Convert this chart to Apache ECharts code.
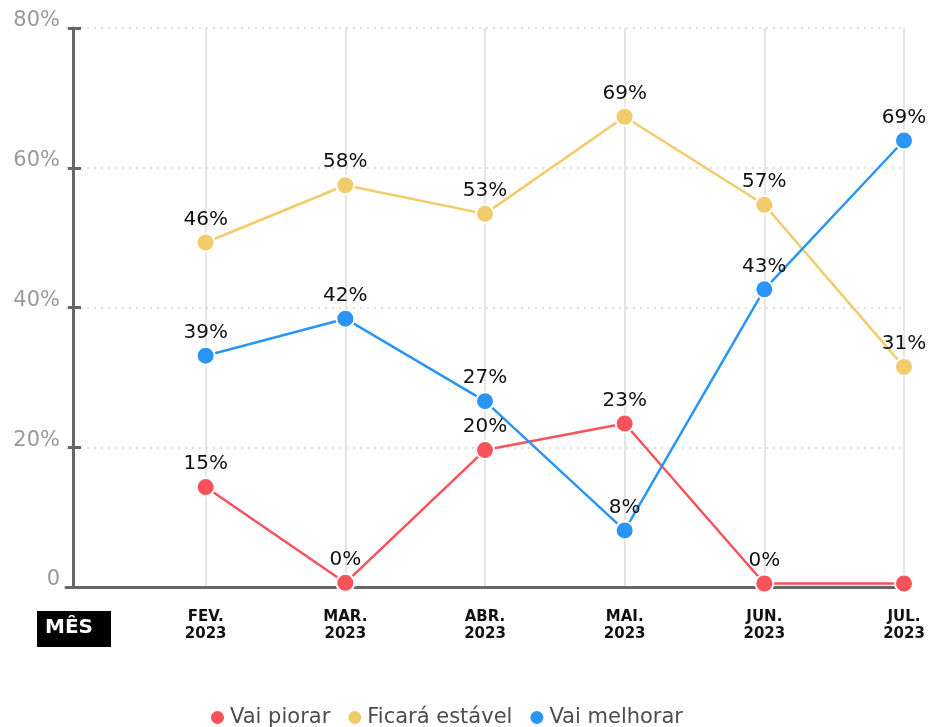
<!DOCTYPE html>
<html>
<head>
<meta charset="utf-8">
<script src="https://cdn.jsdelivr.net/npm/echarts@6/dist/echarts.min.js"></script>
<style>
  html, body { margin: 0; padding: 0; background: #fff; }
  #chart { width: 933px; height: 727px; }
</style>
</head>
<body>
<div id="chart"></div>
<script>
const months = ['FEV.\n2023', 'MAR.\n2023', 'ABR.\n2023', 'MAI.\n2023', 'JUN.\n2023', 'JUL.\n2023']
const yTicks = [0, 20, 40, 60, 80]

// plotted positions and the printed labels
const piorarValues = [14.3, 0.6, 19.6, 23.4, 0.5, 0.5]
const piorarLabels = ['15%', '0%', '20%', '23%', '0%', '']
const estavelValues = [49.3, 57.5, 53.4, 67.3, 54.7, 31.5]
const estavelLabels = ['46%', '58%', '53%', '69%', '57%', '31%']
const melhorarValues = [33.1, 38.4, 26.6, 8.1, 42.6, 63.9]
const melhorarLabels = ['39%', '42%', '27%', '8%', '43%', '69%']

const FONT = 'DejaVu Sans'
const axisGray = '#666666'

const chart = echarts.init(document.getElementById('chart'))

function lineSeries(name, color, values, labels) {
  return {
    name,
    type: 'line',
    yAxisIndex: 0,
    data: [null, ...values],
    symbol: 'circle',
    symbolSize: 18,
    lineStyle: { color, width: 2.5 },
    itemStyle: { color, borderColor: '#FFFFFF', borderWidth: 2 },
    label: {
      show: true,
      position: 'top',
      distance: 3,
      color: '#111111',
      fontSize: 20,
      fontFamily: FONT,
      formatter: (p) => labels[p.dataIndex - 1] || ''
    },
    emphasis: { disabled: true }
  }
}

const yCommon = {
  type: 'value',
  position: 'left',
  min: yTicks[0],
  max: yTicks[yTicks.length - 1],
  interval: 20,
  offset: -7
}

chart.setOption({
  animation: false,
  textStyle: { fontFamily: FONT },
  grid: { left: 66, right: 29, top: 28, bottom: 140, containLabel: false },
  xAxis: {
    type: 'category',
    boundaryGap: false,
    data: ['', ...months],
    axisLine: { lineStyle: { color: axisGray, width: 3 } },
    axisTick: { show: false },
    axisLabel: {
      color: '#111111',
      fontSize: 15,
      fontWeight: 'bold',
      fontFamily: FONT,
      lineHeight: 17,
      margin: 22,
      interval: 0
    },
    splitLine: {
      show: true,
      interval: (index) => index > 0,
      lineStyle: { color: '#DDDDDD', width: 1.5 }
    }
  },
  yAxis: [
    {
      ...yCommon,
      axisLine: { show: true, lineStyle: { color: axisGray, width: 3 } },
      axisTick: { show: true, inside: false, length: 5, lineStyle: { color: axisGray, width: 3 } },
      axisLabel: {
        color: '#9A9A9A',
        fontSize: 21,
        fontFamily: FONT,
        margin: 13,
        verticalAlign: 'bottom',
        lineHeight: 14,
        formatter: (v) => (v === 0 ? '0' : v + '%')
      },
      splitLine: { show: true, lineStyle: { color: '#E0E0E0', width: 2, type: [2, 5] } }
    },
    {
      ...yCommon,
      axisLine: { show: false },
      axisTick: { show: true, inside: true, length: 8, lineStyle: { color: axisGray, width: 3 } },
      axisLabel: { show: false },
      splitLine: { show: false }
    }
  ],
  legend: {
    left: 204,
    top: 702,
    icon: 'circle',
    itemWidth: 15,
    itemHeight: 15,
    itemGap: 16,
    textStyle: { color: '#4D4D4D', fontSize: 21, fontFamily: FONT },
    data: ['Vai piorar', 'Ficará estável', 'Vai melhorar']
  },
  graphic: [
    { type: 'rect', left: 37, top: 611, shape: { width: 74, height: 36 }, style: { fill: '#000000' } },
    {
      type: 'text',
      left: 45,
      top: 618,
      style: { text: 'MÊS', fill: '#FFFFFF', font: 'bold 20px "DejaVu Sans"' }
    }
  ],
  series: [
    lineSeries('Vai piorar', '#F9525A', piorarValues, piorarLabels),
    lineSeries('Ficará estável', '#F2CB6B', estavelValues, estavelLabels),
    lineSeries('Vai melhorar', '#2B95F7', melhorarValues, melhorarLabels)
  ]
})
</script>
</body>
</html>
